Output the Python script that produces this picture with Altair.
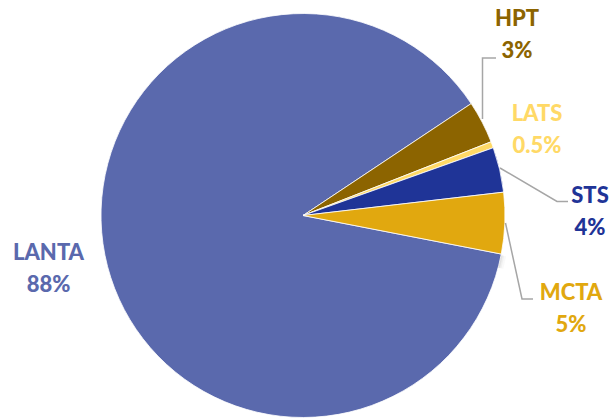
import math
import altair as alt
import pandas as pd

# ---- data ----
names = ["LANTA", "HPT", "LATS", "STS", "MCTA"]
values = [87.6, 3.4, 0.5, 3.6, 4.9]
pct_labels = ["88%", "3%", "0.5%", "4%", "5%"]
slice_colors = ["#5A69AD", "#8C6400", "#FFD966", "#1F3497", "#E1A80F"]
text_colors = ["#5A69AD", "#8C6400", "#FFD966", "#1F3497", "#E1A80F"]

# ---- layout constants (pixels) ----
CX, CY, R = 303, 215.5, 202
START = math.radians(101)
label_x = [48.5, 517, 537, 590, 571]
label_y = [252, 18, 113, 195, 292]
LINE_GAP = 32
leaders = {
    "HPT": [(482.5, 119), (482.5, 58), (496, 58)],
    "STS": [(500, 168), (557, 201.5), (568, 201.5)],
    "MCTA": [(505.5, 223), (522, 299), (533, 299)],
}

pie_df = pd.DataFrame({"name": names, "value": values, "idx": range(len(names))})
lab_df = pd.DataFrame({
    "name": names, "pct": pct_labels, "lx": label_x,
    "ly1": [y + 1 for y in label_y], "ly2": [y + 1 + LINE_GAP for y in label_y],
})
rows = []
for k, pts in leaders.items():
    for i, (px, py) in enumerate(pts):
        rows.append({"name": k, "o": i, "px": px, "py": py})
lead_df = pd.DataFrame(rows)

color = alt.Color("name:N", scale=alt.Scale(domain=names, range=slice_colors), legend=None)
tcolor = alt.Color("name:N", scale=alt.Scale(domain=names, range=text_colors), legend=None)

# soft shadow rings
shadows = alt.layer(*[
    alt.Chart(pd.DataFrame({"v": [1]})).mark_arc(radius=r, color="#000000", opacity=op).encode(
        theta=alt.Theta("v:Q"), x=alt.value(CX - 1), y=alt.value(CY + 1)
    )
    for r, op in [(208, 0.025), (206, 0.035), (204.5, 0.05), (203.3, 0.07)]
])

pie = alt.Chart(pie_df).mark_arc(radius=R, stroke="white", strokeWidth=0.8).encode(
    theta=alt.Theta("value:Q", stack=True,
                    scale=alt.Scale(range=[START, START + 2 * math.pi])),
    order=alt.Order("idx:Q"),
    color=color,
    x=alt.value(CX), y=alt.value(CY),
)

lines = alt.Chart(lead_df).mark_line(color="#A6A6A6", strokeWidth=1.5).encode(
    x=alt.X("px:Q", scale=None, axis=None),
    y=alt.Y("py:Q", scale=None, axis=None),
    detail="name:N",
    order="o:Q",
)

font = dict(font="Lato", fontSize=22, fontWeight=900, align="center", baseline="middle")
t1 = alt.Chart(lab_df).mark_text(**font).encode(
    x=alt.X("lx:Q", scale=None, axis=None), y=alt.Y("ly1:Q", scale=None, axis=None),
    text="name:N", color=tcolor,
)
t2 = alt.Chart(lab_df).mark_text(**font).encode(
    x=alt.X("lx:Q", scale=None, axis=None), y=alt.Y("ly2:Q", scale=None, axis=None),
    text="pct:N", color=tcolor,
)

chart = alt.layer(shadows, pie, lines, t1, t2).resolve_scale(color="independent").properties(
    width=610, height=420, autosize=alt.AutoSizeParams(type="none"), padding=0,
    background="white",
).configure_view(stroke=None)

chart.save("out.html", embed_options={"renderer": "svg", "actions": False})
